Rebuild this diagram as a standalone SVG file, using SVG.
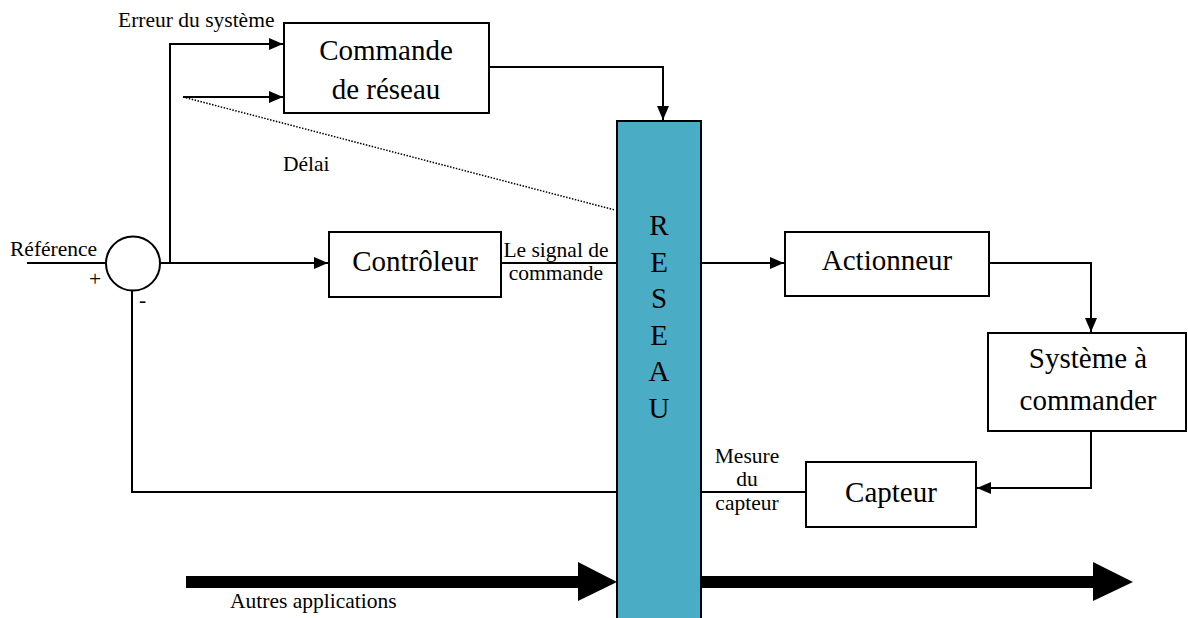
<svg xmlns="http://www.w3.org/2000/svg" width="1188" height="618" viewBox="0 0 1188 618">
<style>
.box{fill:#fff;stroke:#000;stroke-width:2}
.ln{fill:none;stroke:#000;stroke-width:2}
.t{font-family:"Liberation Serif","Times New Roman",serif;fill:#000}
.big{font-size:29px;text-anchor:middle}
.sm{font-size:21.5px}
.smc{font-size:21.5px;text-anchor:middle}
</style>
<defs>
<marker id="ah" markerWidth="14" markerHeight="12" refX="14" refY="6" orient="auto" markerUnits="userSpaceOnUse">
<path d="M0,0 L14,6 L0,12 Z" fill="#000"/>
</marker>
</defs>
<rect width="1188" height="618" fill="#fff"/>

<g id="reseau">
<rect x="617" y="121" width="84" height="510" fill="#4BACC6" stroke="#000" stroke-width="2"/>
<text class="t big" x="659" y="235">R</text>
<text class="t big" x="659" y="271.5">E</text>
<text class="t big" x="659" y="308">S</text>
<text class="t big" x="659" y="344.5">E</text>
<text class="t big" x="659" y="381">A</text>
<text class="t big" x="659" y="417.5">U</text>
</g>

<g id="commande-reseau">
<rect class="box" x="284" y="23" width="205" height="90"/>
<text class="t big" x="386" y="60">Commande</text>
<text class="t big" x="386" y="99">de réseau</text>
</g>

<g id="sommateur">
<circle cx="133" cy="263.5" r="27" fill="#fff" stroke="#000" stroke-width="2"/>
<text class="t sm" x="89" y="286">+</text>
<text class="t sm" x="139" y="307">-</text>
</g>

<g id="controleur">
<rect class="box" x="329" y="232" width="172" height="65"/>
<text class="t big" x="415" y="271">Contrôleur</text>
</g>

<g id="actionneur">
<rect class="box" x="785" y="232" width="204" height="64"/>
<text class="t big" x="887" y="270">Actionneur</text>
</g>

<g id="systeme">
<rect class="box" x="988" y="333" width="198" height="98"/>
<text class="t big" x="1088" y="368">Système à</text>
<text class="t big" x="1088" y="410">commander</text>
</g>

<g id="capteur">
<rect class="box" x="806" y="462" width="170" height="65"/>
<text class="t big" x="891" y="502">Capteur</text>
</g>

<g id="connectors">
<path class="ln" d="M170,263 V44 H283" marker-end="url(#ah)"/>
<path class="ln" d="M183,97 H283" marker-end="url(#ah)"/>
<path d="M183,97 L615,210" fill="none" stroke="#000" stroke-width="1.5" stroke-dasharray="1.5,1.5"/>
<path class="ln" d="M489,67 H663 V120" marker-end="url(#ah)"/>
<path class="ln" d="M27,263 H106"/>
<path class="ln" d="M160,263 H328" marker-end="url(#ah)"/>
<path class="ln" d="M501,263 H617"/>
<path class="ln" d="M701,263 H784" marker-end="url(#ah)"/>
<path class="ln" d="M989,263 H1091 V332" marker-end="url(#ah)"/>
<path class="ln" d="M1091,431 V488 H977" marker-end="url(#ah)"/>
<path class="ln" d="M806,492 H701"/>
<path class="ln" d="M617,492 H132 V290"/>
<path d="M186,576 H578 V562 L617,582 L578,601 V588 H186 Z" fill="#000"/>
<path d="M701,576 H1093 V562 L1133,582 L1093,601 V588 H701 Z" fill="#000"/>
</g>

<g id="labels">
<text class="t sm" x="118" y="27">Erreur du système</text>
<text class="t sm" x="283" y="171">Délai</text>
<text class="t sm" x="10" y="256">Référence</text>
<text class="t smc" x="556" y="257">Le signal de</text>
<text class="t smc" x="556" y="280">commande</text>
<text class="t smc" x="747" y="463">Mesure</text>
<text class="t smc" x="747" y="486">du</text>
<text class="t smc" x="747" y="510">capteur</text>
<text class="t sm" x="230" y="608">Autres applications</text>
</g>
</svg>
